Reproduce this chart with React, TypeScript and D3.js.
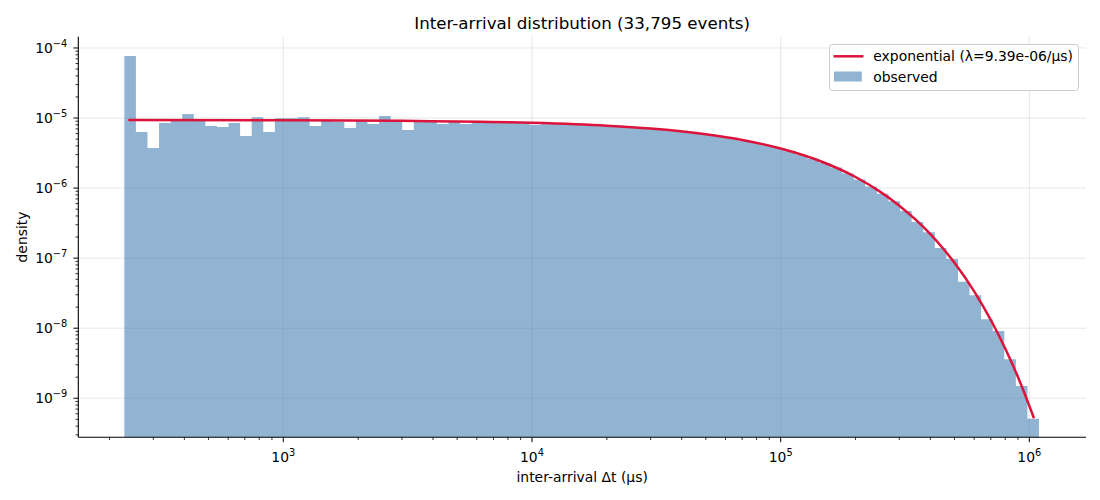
import React from 'react';
import * as d3 from 'd3';

// ---- data ----
const binCount = 79;
const binRange = [229.4, 1.094e6]; // first / last histogram edge (µs)
const observedDensity = [
  7.69e-5, 6.31e-6, 3.73e-6, 8.49e-6, 9.58e-6, 1.14e-5, 9.68e-6, 7.69e-6, 7.44e-6, 8.49e-6,
  5.53e-6, 1.03e-5, 6.31e-6, 9.9e-6, 9.9e-6, 1.03e-5, 7.69e-6, 9.36e-6, 8.85e-6, 7.2e-6,
  9.2e-6, 8.2e-6, 1.07e-5, 9.2e-6, 6.74e-6, 9.2e-6, 9.36e-6, 8.2e-6, 9.06e-6, 8.2e-6,
  8.97e-6, 8.85e-6, 8.75e-6, 8.7e-6, 8.6e-6, 8.0e-6, 8.4e-6, 8.3e-6, 8.2e-6, 8.1e-6,
  7.9e-6, 7.8e-6, 7.6e-6, 7.5e-6, 7.3e-6, 7.0e-6, 6.8e-6, 6.6e-6, 6.3e-6, 6.1e-6,
  5.9e-6, 5.45e-6, 5.15e-6, 4.7e-6, 4.45e-6, 4.1e-6, 3.75e-6, 3.35e-6, 3.0e-6, 2.62e-6,
  2.28e-6, 1.97e-6, 1.62e-6, 1.33e-6, 1.05e-6, 8.3e-7, 6.5e-7, 4.7e-7, 3.27e-7, 2.35e-7,
  1.4e-7, 9.7e-8, 4.6e-8, 2.96e-8, 1.34e-8, 9.1e-9, 3.6e-9, 1.5e-9, 5.1e-10,
];
const fitT = [
  238, 1000, 3000, 1e4, 2e4, 3e4, 5e4, 7e4, 1e5, 1.5e5, 2e5, 2.5e5, 3e5, 3.5e5, 4e5,
  4.5e5, 5e5, 6e5, 7e5, 8e5, 9e5, 1.044e6,
];
const fitDensity = [
  9.37e-6, 9.3e-6, 9.13e-6, 8.55e-6, 7.78e-6, 7.09e-6, 5.87e-6, 4.87e-6, 3.67e-6, 2.3e-6,
  1.44e-6, 8.98e-7, 5.61e-7, 3.51e-7, 2.2e-7, 1.373e-7, 8.58e-8, 3.36e-8, 1.31e-8, 5.13e-9,
  2.01e-9, 5.19e-10,
];
const xLimits = [149.8, 1.69e6];
const yLimits = [2.77e-10, 1.449e-4];
const xMajorExp = [3, 4, 5, 6];
const yMajorExp = [-9, -8, -7, -6, -5, -4];
const titleText = 'Inter-arrival distribution (33,795 events)';
const xLabel = 'inter-arrival Δt (µs)';
const yLabel = 'density';
const legendLabels = ['exponential (λ=9.39e-06/µs)', 'observed'];

const FONT = 'DejaVu Sans, sans-serif';

export default function App() {
  const W = 1100, H = 500;
  const L = 78.3, R = 1086, T = 36.7, B = 437.3;
  const x = d3.scaleLog().domain(xLimits).range([L, R]);
  const y = d3.scaleLog().domain(yLimits).range([B, T]);

  const lo = Math.log10(binRange[0]);
  const hi = Math.log10(binRange[1]);
  const edges = d3.range(binCount + 1).map((i) => Math.pow(10, lo + ((hi - lo) * i) / binCount));

  const isMajor = (v: number) => Math.abs(Math.log10(v) - Math.round(Math.log10(v))) < 1e-6;
  const xMinor = x.ticks().filter((v) => !isMajor(v) && v >= xLimits[0] && v <= xLimits[1]);
  const yMinor = y.ticks().filter((v) => !isMajor(v) && v >= yLimits[0] && v <= yLimits[1]);

  const linePath = d3
    .line<number>()
    .x((_, i) => x(fitT[i]))
    .y((d) => y(d))
    .curve(d3.curveMonotoneX)(fitDensity) as string;

  // histogram outline as one stepped path (no seams between adjacent bars)
  const base = B + 5;
  const pts: [number, number][] = [[x(edges[0]), base]];
  observedDensity.forEach((d, i) => {
    pts.push([x(edges[i]), y(d)]);
    pts.push([x(edges[i + 1]), y(d)]);
  });
  pts.push([x(edges[binCount]), base]);
  const histPath = (d3.line()(pts) as string) + 'Z';

  const tickFs = 13.9;
  const supFs = 9.8;
  const minus = '\u2212';

  return (
    <svg width={W} height={H} style={{ position: 'absolute', left: 0, top: 0, background: '#fff' }} fontFamily={FONT}>
      <defs>
        <clipPath id="plotClip">
          <rect x={L} y={T} width={R - L} height={B - T} />
        </clipPath>
      </defs>
      <rect x={0} y={0} width={W} height={H} fill="#fff" />
      {/* grid */}
      <g stroke="#b0b0b0" strokeOpacity={0.3} strokeWidth={1}>
        {xMajorExp.map((e) => (
          <line key={'gx' + e} x1={x(Math.pow(10, e))} x2={x(Math.pow(10, e))} y1={T} y2={B} />
        ))}
        {yMajorExp.map((e) => (
          <line key={'gy' + e} x1={L} x2={R} y1={y(Math.pow(10, e))} y2={y(Math.pow(10, e))} />
        ))}
      </g>
      {/* bars */}
      <g clipPath="url(#plotClip)">
        <path d={histPath} fill="#4682b4" fillOpacity={0.6} stroke="none" />
        <path d={linePath} fill="none" stroke="#dc143c" strokeWidth={2.5} />
      </g>
      {/* spines */}
      <line x1={L} x2={L} y1={T} y2={B} stroke="#000" strokeWidth={1.1} />
      <line x1={L} x2={R} y1={B} y2={B} stroke="#000" strokeWidth={1.1} />
      {/* ticks */}
      <g stroke="#000" strokeWidth={1}>
        {xMajorExp.map((e) => (
          <line key={'xt' + e} x1={x(Math.pow(10, e))} x2={x(Math.pow(10, e))} y1={B} y2={B + 4.9} />
        ))}
        {xMinor.map((v, i) => (
          <line key={'xm' + i} x1={x(v)} x2={x(v)} y1={B} y2={B + 2.8} strokeWidth={0.8} />
        ))}
        {yMajorExp.map((e) => (
          <line key={'yt' + e} x1={L - 4.9} x2={L} y1={y(Math.pow(10, e))} y2={y(Math.pow(10, e))} />
        ))}
        {yMinor.map((v, i) => (
          <line key={'ym' + i} x1={L - 2.8} x2={L} y1={y(v)} y2={y(v)} strokeWidth={0.8} />
        ))}
      </g>
      {/* x tick labels */}
      {xMajorExp.map((e) => (
        <text key={'xl' + e} x={x(Math.pow(10, e))} y={B + 24.5} textAnchor="middle" fontSize={tickFs} fill="#000">
          <tspan>10</tspan>
          <tspan dy={-6} fontSize={supFs}>{String(e)}</tspan>
        </text>
      ))}
      {/* y tick labels */}
      {yMajorExp.map((e) => (
        <text key={'yl' + e} x={L - 11} y={y(Math.pow(10, e)) + 5} textAnchor="end" fontSize={tickFs} fill="#000">
          <tspan>10</tspan>
          <tspan dy={-6} fontSize={supFs}>{minus + String(-e)}</tspan>
        </text>
      ))}
      {/* title & axis labels */}
      <text x={(L + R) / 2} y={29} textAnchor="middle" fontSize={16.7} fill="#000">
        {titleText}
      </text>
      <text x={(L + R) / 2} y={482} textAnchor="middle" fontSize={13.9} fill="#000">
        {xLabel}
      </text>
      <text
        transform={`translate(${27},${(T + B) / 2}) rotate(-90)`}
        textAnchor="middle"
        fontSize={13.9}
        fill="#000"
      >
        {yLabel}
      </text>
      {/* legend */}
      <g>
        <rect x={829.5} y={44.5} width={249} height={46} rx={3} fill="#fff" fillOpacity={0.8} stroke="#cccccc" strokeWidth={1} />
        <line x1={833.5} x2={863.5} y1={56.3} y2={56.3} stroke="#dc143c" strokeWidth={2.5} />
        <rect x={834} y={71.5} width={27.8} height={10} fill="#4682b4" fillOpacity={0.6} />
        <text x={873.3} y={61.3} fontSize={13.9} fill="#000">{legendLabels[0]}</text>
        <text x={873.3} y={82} fontSize={13.9} fill="#000">{legendLabels[1]}</text>
      </g>
    </svg>
  );
}
